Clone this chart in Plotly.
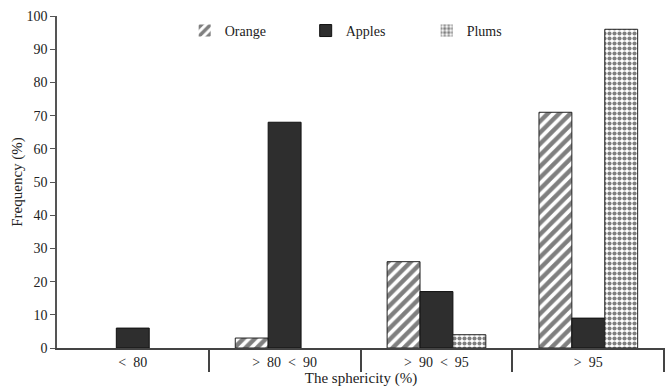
import plotly.graph_objects as go

categories = ["<  80", ">  80  <  90", ">  90  <  95", ">  95"]
orange = [0, 3, 26, 71]
apples = [6, 68, 17, 9]
plums = [0, 0, 4, 96]

font_family = "Liberation Serif, Times New Roman, serif"


def outline(values):
    return [0 if v == 0 else 1 for v in values]


fig = go.Figure()
fig.add_trace(go.Bar(
    name="Orange", x=categories, y=orange,
    marker=dict(color="white", line=dict(color="#222", width=outline(orange)),
                pattern=dict(shape="/", fgcolor="black", bgcolor="white", size=8, solidity=0.55)),
))
fig.add_trace(go.Bar(
    name="Apples", x=categories, y=apples,
    marker=dict(color="#2e2e2e", line=dict(color="#111", width=outline(apples))),
))
fig.add_trace(go.Bar(
    name="Plums", x=categories, y=plums,
    marker=dict(color="white", line=dict(color="#222", width=outline(plums)),
                pattern=dict(shape=".", fgcolor="black", bgcolor="white", size=5, solidity=0.55)),
))

fig.update_layout(
    width=667, height=390,
    margin=dict(l=57, r=2, t=16, b=42),
    plot_bgcolor="white", paper_bgcolor="white",
    barmode="group", bargap=0.35, bargroupgap=0,
    font=dict(family=font_family, size=13, color="#222"),
    showlegend=True,
    legend=dict(orientation="h", x=0.21, y=0.955, xanchor="left", yanchor="middle",
                entrywidth=76, entrywidthmode="pixels",
                font=dict(family=font_family, size=14, color="#222"),
                bgcolor="rgba(0,0,0,0)"),
    xaxis=dict(
        type="category", range=[-0.499, 3.505],
        showline=True, linecolor="#444", linewidth=1.5,
        ticks="outside", tickson="boundaries", ticklen=22, tickcolor="#444", tickwidth=1.5,
        showgrid=False, zeroline=False,
        tickfont=dict(family=font_family, size=14, color="#222"),
        title=dict(text="The sphericity (%)", standoff=0,
                   font=dict(family=font_family, size=15, color="#222")),
    ),
    yaxis=dict(
        range=[0, 100], dtick=10,
        showline=True, linecolor="#555", linewidth=1.5,
        ticks="outside", ticklen=5, tickcolor="#555",
        showgrid=False, zeroline=False,
        tickfont=dict(family=font_family, size=14, color="#222"),
        title=dict(text="Frequency (%)", standoff=0,
                   font=dict(family=font_family, size=15, color="#222")),
    ),
)

fig.write_html("out.html", config={"displayModeBar": False},
               post_script="document.body.style.margin='0';")
